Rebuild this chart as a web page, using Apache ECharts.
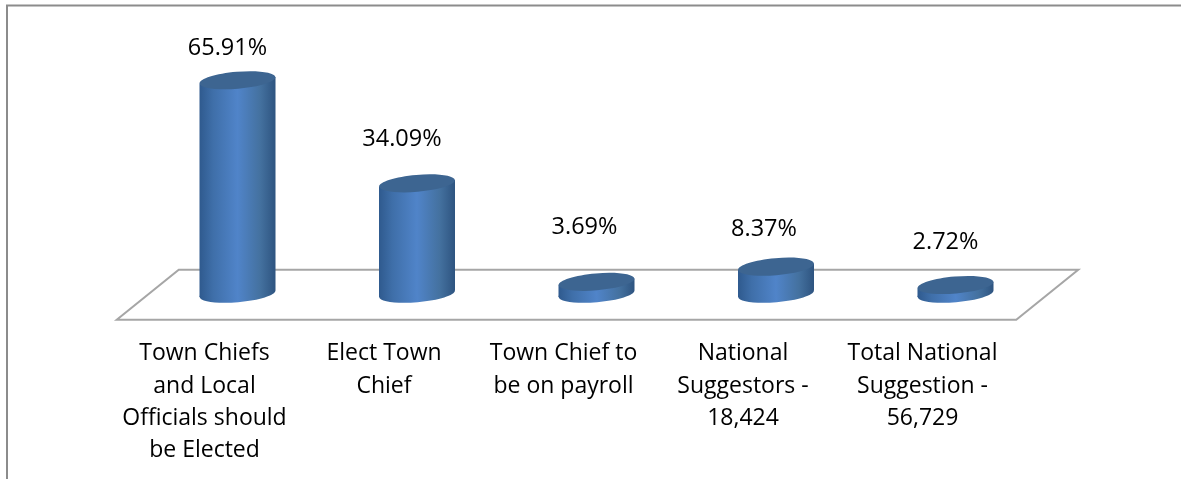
<!DOCTYPE html>
<html><head><meta charset="utf-8">
<style>html,body{margin:0;padding:0;background:#fff}#c{width:1181px;height:479px}</style>
<script src="https://cdn.jsdelivr.net/npm/echarts@6/dist/echarts.min.js"></script>
</head><body><div id="c"></div>
<script>
const categories = ['Town Chiefs\nand Local\nOfficials should\nbe Elected','Elect Town\nChief','Town Chief to\nbe on payroll','National\nSuggestors -\n18,424','Total National\nSuggestion -\n56,729'];
const percentages = [65.91, 34.09, 3.69, 8.37, 2.72];
const labelNudgeX = [-10,-15,-12,-12,-10];
const labelRise = [32,44,55,37,43];
const FONT = '"Open Sans", Lato, sans-serif';
const RX = 38, RY = 8.5, TILT = 0.085;
const chart = echarts.init(document.getElementById('c'), null, {renderer:'canvas'});
const side = {type:'linear',x:0,y:0,x2:1,y2:0,colorStops:[
  {offset:0,color:'#2f5a8e'},{offset:0.18,color:'#3f6fa9'},{offset:0.5,color:'#5084c9'},
  {offset:0.8,color:'#44719f'},{offset:1,color:'#2e5480'}]};
function ellipse(cx,cy,fill,z){
  return {type:'ellipse',x:cx,y:cy,rotation:TILT,originX:0,originY:0,
    shape:{cx:0,cy:0,rx:RX,ry:RY},style:{fill:fill},z2:z};
}
function cylinder(params,api){
  const i = params.dataIndex;
  const top = api.coord([i,api.value(1)]), base = api.coord([i,0]);
  const x = top[0], dy = RX*Math.sin(TILT);
  return {type:'group',children:[
    ellipse(x,base[1],side,1),
    {type:'polygon',shape:{points:[[x-RX,top[1]+dy],[x+RX,top[1]-dy],[x+RX,base[1]-dy],[x-RX,base[1]+dy]]},style:{fill:side},z2:2},
    ellipse(x,top[1],'#3d6591',3),
    {type:'text',x:x+labelNudgeX[i],y:top[1]-labelRise[i],z2:5,
      style:{text:api.value(1).toFixed(2)+'%',font:'23.5px '+FONT,fill:'#000',align:'center',verticalAlign:'middle'}}
  ]};
}
function floor(params){
  const c = params.coordSys, by = c.y+c.height;
  const fl = c.x+31, fr = c.x+c.width+33;
  const pts = [[fl,by-24],[fr,by-24],[fr-62,by+26],[fl-62,by+26]];
  return {type:'polygon',shape:{points:pts},style:{fill:'#fff',stroke:'#a6a6a6',lineWidth:2},silent:true};
}
chart.setOption({
  animation:false,
  backgroundColor:'#fff',
  graphic:[{type:'polyline',silent:true,shape:{points:[[7,479],[7,5.5],[1181,5.5]]},style:{fill:null,stroke:'#8c8c8c',lineWidth:2}}],
  grid:{left:147.75,width:897.5,top:67,height:226.8},
  xAxis:{type:'category',data:categories,axisLine:{show:false},axisTick:{show:false},splitLine:{show:false},
    axisLabel:{interval:0,margin:44,color:'#000',fontFamily:'"Open Sans", Lato, sans-serif',fontSize:23,lineHeight:32.3,align:'center',padding:[0,66,0,0]}},
  yAxis:{type:'value',min:0,max:70,show:false},
  series:[
    {type:'custom',renderItem:floor,data:[[0,0]],coordinateSystem:'cartesian2d',z:1,silent:true},
    {type:'custom',renderItem:cylinder,data:percentages.map((v,i)=>[i,v]),encode:{x:0,y:1},z:2}
  ]
});
</script></body></html>
